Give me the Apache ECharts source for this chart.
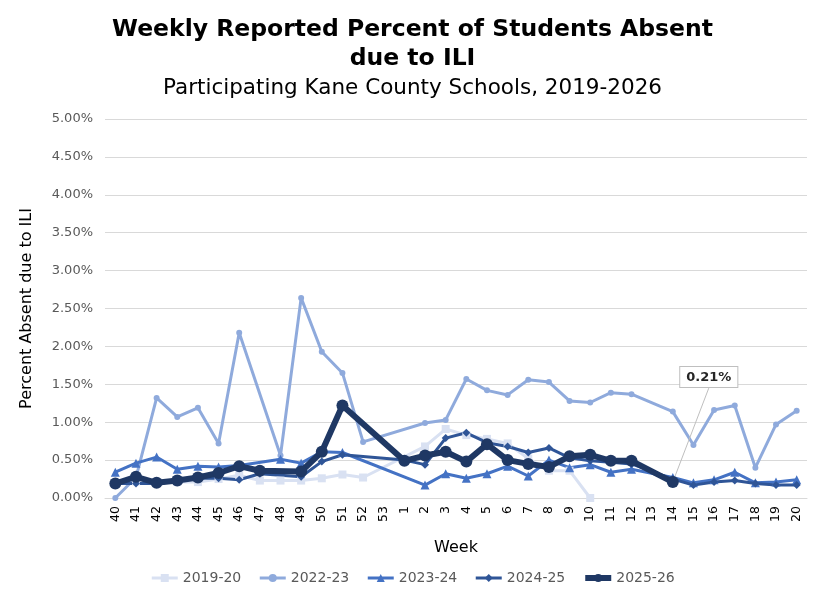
<!DOCTYPE html>
<html>
<head>
<meta charset="utf-8">
<script src="https://cdn.jsdelivr.net/npm/echarts@6/dist/echarts.min.js"></script>
<style>
  html, body { margin: 0; padding: 0; background: #fff; }
  #chart { width: 825px; height: 601px; }
</style>
</head>
<body>
<div id="chart"></div>
<script>
// weeks of the school season, 40..53 then 1..20
const weeks = ['40','41','42','43','44','45','46','47','48','49','50','51','52','53',
  '1','2','3','4','5','6','7','8','9','10','11','12','13','14','15','16','17','18','19','20'];

// percent absent due to ILI (null = not reported)
const s2019 = [0.18, 0.22, 0.20, 0.21, 0.21, 0.25, 0.30, 0.23, 0.23, 0.23, 0.26, 0.31, 0.27, null,
  null, 0.68, 0.91, 0.83, 0.78, 0.72, 0.52, 0.36, 0.36, 0.00, null, null, null, null, null, null, null, null, null, null];
const s2022 = [0.00, 0.27, 1.32, 1.07, 1.19, 0.72, 2.18, null, 0.56, 2.64, 1.93, 1.65, 0.74, null,
  null, 0.99, 1.03, 1.57, 1.42, 1.36, 1.56, 1.53, 1.28, 1.26, 1.39, 1.37, null, 1.14, 0.70, 1.16, 1.22, 0.40, 0.97, 1.15];
const s2023 = [0.34, 0.46, 0.54, 0.38, 0.42, 0.41, 0.43, null, 0.51, 0.46, 0.61, 0.60, null, null,
  null, 0.17, 0.32, 0.26, 0.32, 0.42, 0.29, 0.50, 0.40, 0.44, 0.34, 0.38, null, 0.27, 0.20, 0.24, 0.34, 0.20, 0.21, 0.24];
const s2024 = [0.19, 0.19, 0.19, 0.22, 0.26, 0.26, 0.24, 0.32, null, 0.28, 0.48, 0.57, null, null,
  0.50, 0.44, 0.79, 0.86, 0.73, 0.68, 0.60, 0.66, 0.53, 0.49, 0.47, 0.45, null, 0.25, 0.17, 0.21, 0.23, 0.19, 0.17, 0.17];
const s2025 = [0.19, 0.28, 0.20, 0.23, 0.27, 0.33, 0.42, 0.36, null, 0.35, 0.61, 1.22, null, null,
  0.49, 0.56, 0.61, 0.48, 0.71, 0.50, 0.45, 0.41, 0.55, 0.57, 0.49, 0.49, null, 0.21, null, null, null, null, null, null];

const seasonNames = ['2019-20', '2022-23', '2023-24', '2024-25', '2025-26'];
const labelWeek = '14';

const font = 'DejaVu Sans';
const chart = echarts.init(document.getElementById('chart'));

function makeSeries(name, data, color, symbol, symbolSize, width) {
  return {
    name: name,
    type: 'line',
    data: data,
    connectNulls: true,
    symbol: symbol,
    symbolSize: symbolSize,
    showAllSymbol: true,
    lineStyle: { color: color, width: width },
    itemStyle: { color: color },
    emphasis: { disabled: true },
    animation: false
  };
}

// 2025-26 gets the callout on its last reported week
const last = makeSeries(seasonNames[4], s2025.map((v, i) => {
  if (weeks[i] !== labelWeek) return v;
  return {
    value: v,
    label: {
      show: true,
      position: 'top',
      formatter: p => p.value.toFixed(2) + '%',
      fontFamily: font,
      fontWeight: 'bold',
      fontSize: 13,
      color: '#262626',
      backgroundColor: '#fff',
      borderColor: '#bfbfbf',
      borderWidth: 1,
      padding: [4, 6, 3, 6]
    },
    labelLine: { show: true, lineStyle: { color: '#bfbfbf', width: 1 } }
  };
}), '#1f3864', 'circle', 12, 6);
last.labelLayout = { dx: 36, dy: -84 };
last.z = 10;

chart.setOption({
  backgroundColor: '#fff',
  title: {
    text: 'Weekly Reported Percent of Students Absent\ndue to ILI',
    subtext: 'Participating Kane County Schools, 2019-2026',
    left: 'center',
    top: 10,
    itemGap: 4,
    textStyle: { fontFamily: font, fontSize: 23.5, fontWeight: 'bold', color: '#000', lineHeight: 29 },
    subtextStyle: { fontFamily: font, fontSize: 21.5, color: '#000' }
  },
  legend: {
    bottom: 11,
    left: 'center',
    itemWidth: 26,
    itemHeight: 10,
    itemGap: 17,
    textStyle: { fontFamily: font, fontSize: 14, color: '#595959' },
    data: seasonNames.map((n, i) => i === 4 ? { name: n, lineStyle: { width: 6 } } : { name: n, lineStyle: { width: 3 } })
  },
  grid: { left: 105, right: 18, top: 119, bottom: 103 },
  xAxis: {
    type: 'category',
    data: weeks,
    boundaryGap: true,
    name: 'Week',
    nameLocation: 'middle',
    nameGap: 42,
    nameTextStyle: { fontFamily: font, fontSize: 16, color: '#000' },
    axisLine: { lineStyle: { color: '#d9d9d9' } },
    axisTick: { show: false },
    axisLabel: { rotate: 90, interval: 0, fontFamily: font, fontSize: 12.5, color: '#000', margin: 8 }
  },
  yAxis: {
    type: 'value',
    min: 0,
    max: 5,
    interval: 0.5,
    name: 'Percent Absent due to ILI',
    nameLocation: 'middle',
    nameGap: 70,
    nameTextStyle: { fontFamily: font, fontSize: 16, color: '#000' },
    axisLine: { show: false },
    axisTick: { show: false },
    splitLine: { lineStyle: { color: '#d9d9d9' } },
    axisLabel: { formatter: v => v.toFixed(2) + '%', fontFamily: font, fontSize: 13, color: '#595959', margin: 12 }
  },
  series: [
    makeSeries(seasonNames[0], s2019, '#d9e1f2', 'rect', 8, 3),
    makeSeries(seasonNames[1], s2022, '#8faadc', 'circle', 6, 3),
    makeSeries(seasonNames[2], s2023, '#4472c4', 'triangle', 9, 3),
    makeSeries(seasonNames[3], s2024, '#2f5597', 'diamond', 8, 3),
    last
  ]
});
</script>
</body>
</html>
